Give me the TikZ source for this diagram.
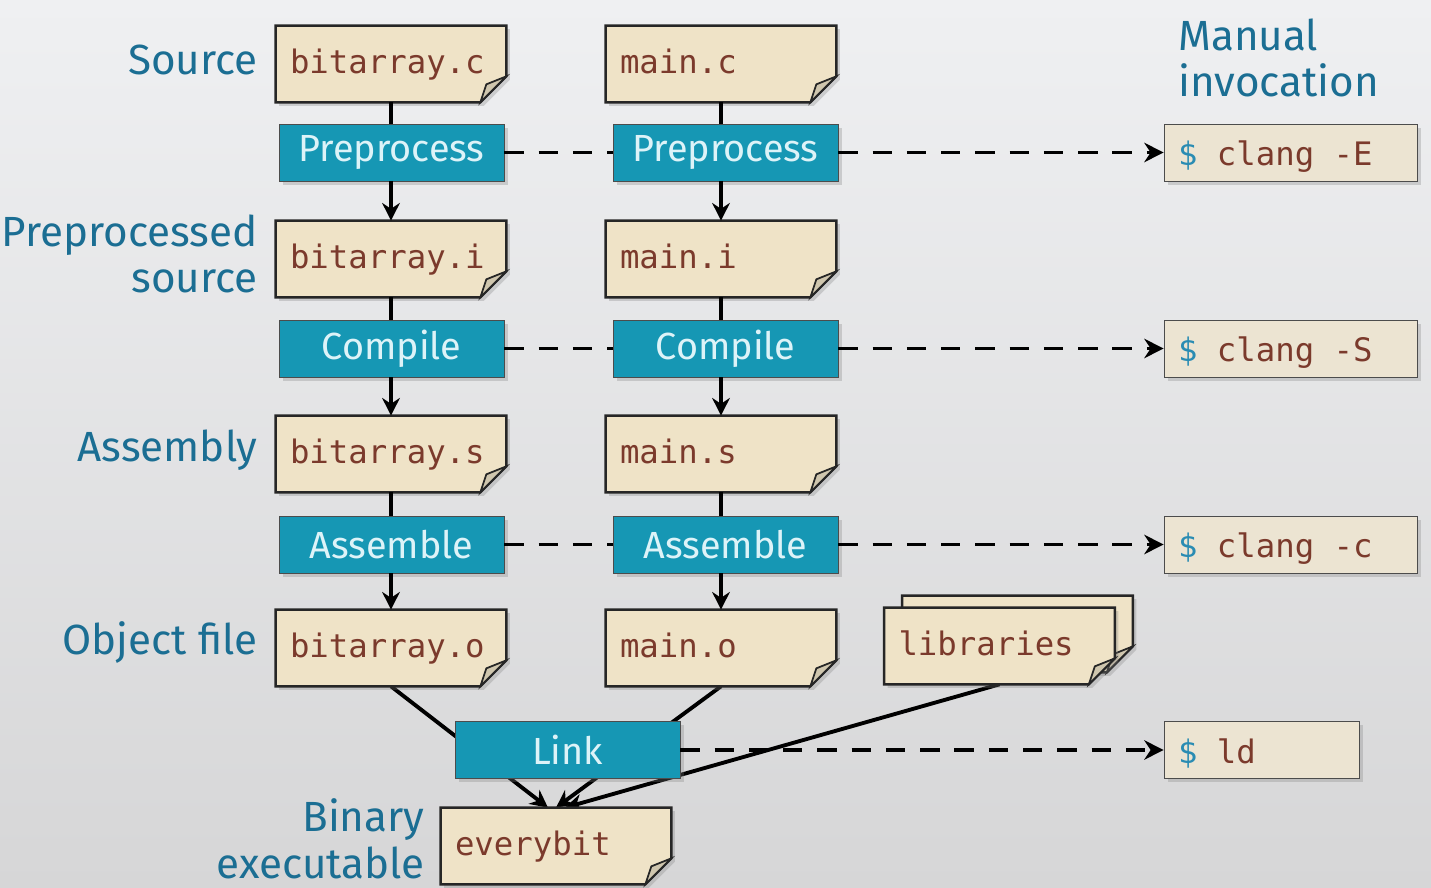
\documentclass[tikz,border=0pt]{standalone}
\usepackage{fontspec}
\setsansfont{Fira Sans}
\newfontfamily\codefont{DejaVu Sans Mono}
\usetikzlibrary{arrows.meta,positioning,backgrounds,shadows}

\definecolor{bgtop}{HTML}{EFF0F2}
\definecolor{bgbot}{HTML}{D6D6D7}
\definecolor{filefill}{HTML}{EFE3C7}
\definecolor{flapfill}{HTML}{CFC6AE}
\definecolor{procfill}{HTML}{1697B4}
\definecolor{proctext}{HTML}{DDF3F8}
\definecolor{stagetext}{HTML}{1B6E93}
\definecolor{codetext}{HTML}{7B3A2C}
\definecolor{dollar}{HTML}{2A8CB3}
\definecolor{cmdfill}{HTML}{ECE4D2}

\newcommand{\fold}{0.52cm}
\newcommand{\codesize}{\codefont\fontsize{18.4}{22}\selectfont}

\begin{document}
\begin{tikzpicture}[
    file/.style={minimum width=4.6cm,minimum height=1.52cm,text width=4.04cm,text height=14pt,text depth=3pt,inner xsep=0.28cm,align=flush left,font=\codesize,text=codetext},
    proc/.style={draw=black!70,fill=procfill,minimum width=4.5cm,minimum height=1.14cm,font=\sffamily\fontsize{21.5}{24}\selectfont,text=proctext,drop shadow={shadow xshift=2pt,shadow yshift=-2pt,opacity=0.3}},
    cmd/.style={draw=black!70,fill=cmdfill,minimum height=1.14cm,text height=16pt,text depth=1pt,inner xsep=0.28cm,align=flush left,font=\codesize,text=codetext,drop shadow={shadow xshift=2pt,shadow yshift=-2pt,opacity=0.3}},
    stagelabel/.style={font=\sffamily\fontsize{24}{26.5}\selectfont,text=stagetext,inner sep=0pt},
    filebody/.style={draw=black!85,line width=1.4pt,fill=filefill,drop shadow={shadow xshift=2pt,shadow yshift=-2pt,opacity=0.3}},
    fileflap/.style={draw=black!85,line width=1pt,fill=flapfill},
    flow/.style={line width=2.2pt,-{Stealth[length=10pt,width=10pt]}},
    plain/.style={line width=2.2pt},
    dashlink/.style={line width=2.2pt,dash pattern=on 11pt off 8.5pt},
    dashflow/.style={dashlink,-{Stealth[length=11pt,width=11pt]}}
]
\useasboundingbox (0,0) rectangle (28.62,-17.76);

% stage labels
\node[stagelabel,anchor=east] (lsrc) at (5.16,-1.2) {Source};
\node[stagelabel,anchor=east,align=right] (lpp) at (5.16,-5.08) {Preprocessed\\source};
\node[stagelabel,anchor=east] (lasm) at (5.16,-9.0) {Assembly};
\node[stagelabel,anchor=east] (lobj) at (5.16,-12.86) {Object file};
\node[stagelabel,anchor=east,align=right] (lbin) at (8.5,-16.78) {Binary\\executable};
\node[stagelabel,anchor=west,align=left] (lman) at (23.56,-1.16) {Manual\\invocation};

% files
\node[file] (srcA) at (7.82,-1.28) {bitarray.c};
\node[file] (srcB) at (14.42,-1.28) {main.c};
\node[file] (ppA) at (7.82,-5.18) {bitarray.i};
\node[file] (ppB) at (14.42,-5.18) {main.i};
\node[file] (asmA) at (7.82,-9.08) {bitarray.s};
\node[file] (asmB) at (14.42,-9.08) {main.s};
\node[file] (objA) at (7.82,-12.96) {bitarray.o};
\node[file] (objB) at (14.42,-12.96) {main.o};
\node[file] (libsB) at (20.35,-12.68) {};
\node[file] (libs) at (19.99,-12.92) {libraries};
\node[file] (exe) at (11.12,-16.92) {everybit};

% steps
\node[proc] (ppcA) at (7.83,-3.05) {Preprocess};
\node[proc] (ppcB) at (14.51,-3.05) {Preprocess};
\node[proc] (ccA) at (7.83,-6.97) {Compile};
\node[proc] (ccB) at (14.51,-6.97) {Compile};
\node[proc] (asA) at (7.83,-10.89) {Assemble};
\node[proc] (asB) at (14.51,-10.89) {Assemble};
\node[proc] (link) at (11.35,-15.0) {Link};

% manual commands
\node[cmd,minimum width=5.06cm,text width=4.5cm] (cE) at (25.81,-3.05) {\textcolor{dollar}{\$} clang -E};
\node[cmd,minimum width=5.06cm,text width=4.5cm] (cS) at (25.81,-6.97) {\textcolor{dollar}{\$} clang -S};
\node[cmd,minimum width=5.06cm,text width=4.5cm] (cc) at (25.81,-10.89) {\textcolor{dollar}{\$} clang -c};
\node[cmd,minimum width=3.9cm,text width=3.34cm] (cld) at (25.23,-15.0) {\textcolor{dollar}{\$} ld};

\begin{scope}[on background layer]
\shade[top color=bgtop,bottom color=bgbot] (0,0) rectangle (28.62,-17.76);
\draw[flow] (objA.south) -- ([xshift=-0.16cm]exe.north);
\draw[flow] (objB.south) -- (exe.north);
\draw[flow] (libs.south) -- ([xshift=0.18cm]exe.north);
\foreach \f in {srcA,srcB,ppA,ppB,asmA,asmB,objA,objB,libsB,libs,exe}{
  \path[filebody] (\f.north west) -- (\f.north east) -- ([yshift=\fold]\f.south east) -- ([xshift=-\fold]\f.south east) -- (\f.south west) -- cycle;
  \path[fileflap] ([yshift=\fold]\f.south east) -- ([xshift=-\fold]\f.south east) -- ([shift={(-0.4,0.36)}]\f.south east) -- cycle;
}
\end{scope}

% pipeline
\foreach \a/\p/\b in {srcA/ppcA/ppA,srcB/ppcB/ppB,ppA/ccA/asmA,ppB/ccB/asmB,asmA/asA/objA,asmB/asB/objB}{
  \draw[plain] (\a.south) -- (\a.south |- \p.north);
  \draw[flow] (\b.north |- \p.south) -- (\b.north);
}

% manual invocation
\draw[dashlink] (ppcA) -- (ppcB);
\draw[dashflow] (ppcB) -- (cE);
\draw[dashlink] (ccA) -- (ccB);
\draw[dashflow] (ccB) -- (cS);
\draw[dashlink] (asA) -- (asB);
\draw[dashflow] (asB) -- (cc);
\draw[dashflow] (link) -- (cld);
\end{tikzpicture}
\end{document}
